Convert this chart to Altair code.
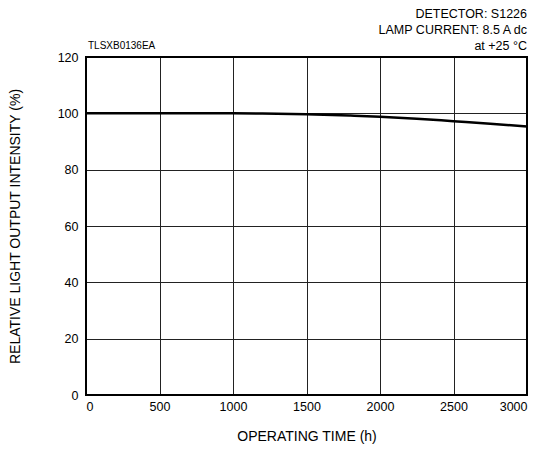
import altair as alt
import pandas as pd

time_h = [0, 500, 1000, 1200, 1500, 1800, 2000, 2250, 2500, 2750, 3000]
intensity = [100, 100, 100, 99.95, 99.7, 99.2, 98.8, 98.1, 97.2, 96.3, 95.3]

x_ticks = [0, 500, 1000, 1500, 2000, 2500, 3000]
y_ticks = [0, 20, 40, 60, 80, 100, 120]

notes = ["DETECTOR: S1226", "LAMP CURRENT: 8.5 A dc", "at +25 °C"]
code = "TLSXB0136EA"

df = pd.DataFrame({"t": time_h, "v": intensity})
one = pd.DataFrame({"k": [0]})

W, H = 441, 338
FONT = "Liberation Sans"

x = alt.X("t:Q", scale=alt.Scale(domain=[0, 3000], nice=False),
          axis=alt.Axis(values=x_ticks, format="d", title="OPERATING TIME (h)", grid=True,
                        gridColor="#222", gridWidth=1, ticks=False, domain=False,
                        labelPadding=5, labelFontSize=12.5, labelColor="#000",
                        titleFontSize=14, titleFontWeight="normal", titleColor="#000",
                        titlePadding=17, labelFont=FONT, titleFont=FONT))
y = alt.Y("v:Q", scale=alt.Scale(domain=[0, 120], nice=False),
          axis=alt.Axis(values=y_ticks, format="d", title="RELATIVE LIGHT OUTPUT INTENSITY (%)",
                        grid=True, gridColor="#222", gridWidth=1, ticks=False,
                        domain=False, labelPadding=8, labelFontSize=12.5,
                        labelColor="#000", titleFontSize=14, titleFontWeight="normal",
                        titleColor="#000", titlePadding=35, labelFont=FONT, titleFont=FONT))

line = alt.Chart(df).mark_line(color="#000", strokeWidth=2.5, interpolate="monotone").encode(x=x, y=y)

border = alt.Chart(one).mark_rect(fill=None, stroke="#000", strokeWidth=2).encode(
    x=alt.value(0), x2=alt.value(W), y=alt.value(0), y2=alt.value(H))

note_layers = []
for i, t in enumerate(notes):
    note_layers.append(alt.Chart(one).mark_text(
        text=t, align="right", baseline="alphabetic", fontSize=12.5, font=FONT,
        fontWeight="normal", color="#000"
    ).encode(x=alt.value(W), y=alt.value(-39 + i * 16)))

code_text = alt.Chart(one).mark_text(
    text=code, align="left", baseline="alphabetic", fontSize=10, font=FONT,
    fontWeight="normal", color="#000"
).encode(x=alt.value(2), y=alt.value(-8))

chart = alt.layer(line, border, code_text, *note_layers).properties(
    width=W, height=H, padding={"left": 78, "top": 49, "right": 14, "bottom": 60},
    autosize=alt.AutoSizeParams(type="none")
).configure_view(stroke=None).configure(background="white")

chart.save("out.html", embed_options={"renderer": "svg", "actions": False})
